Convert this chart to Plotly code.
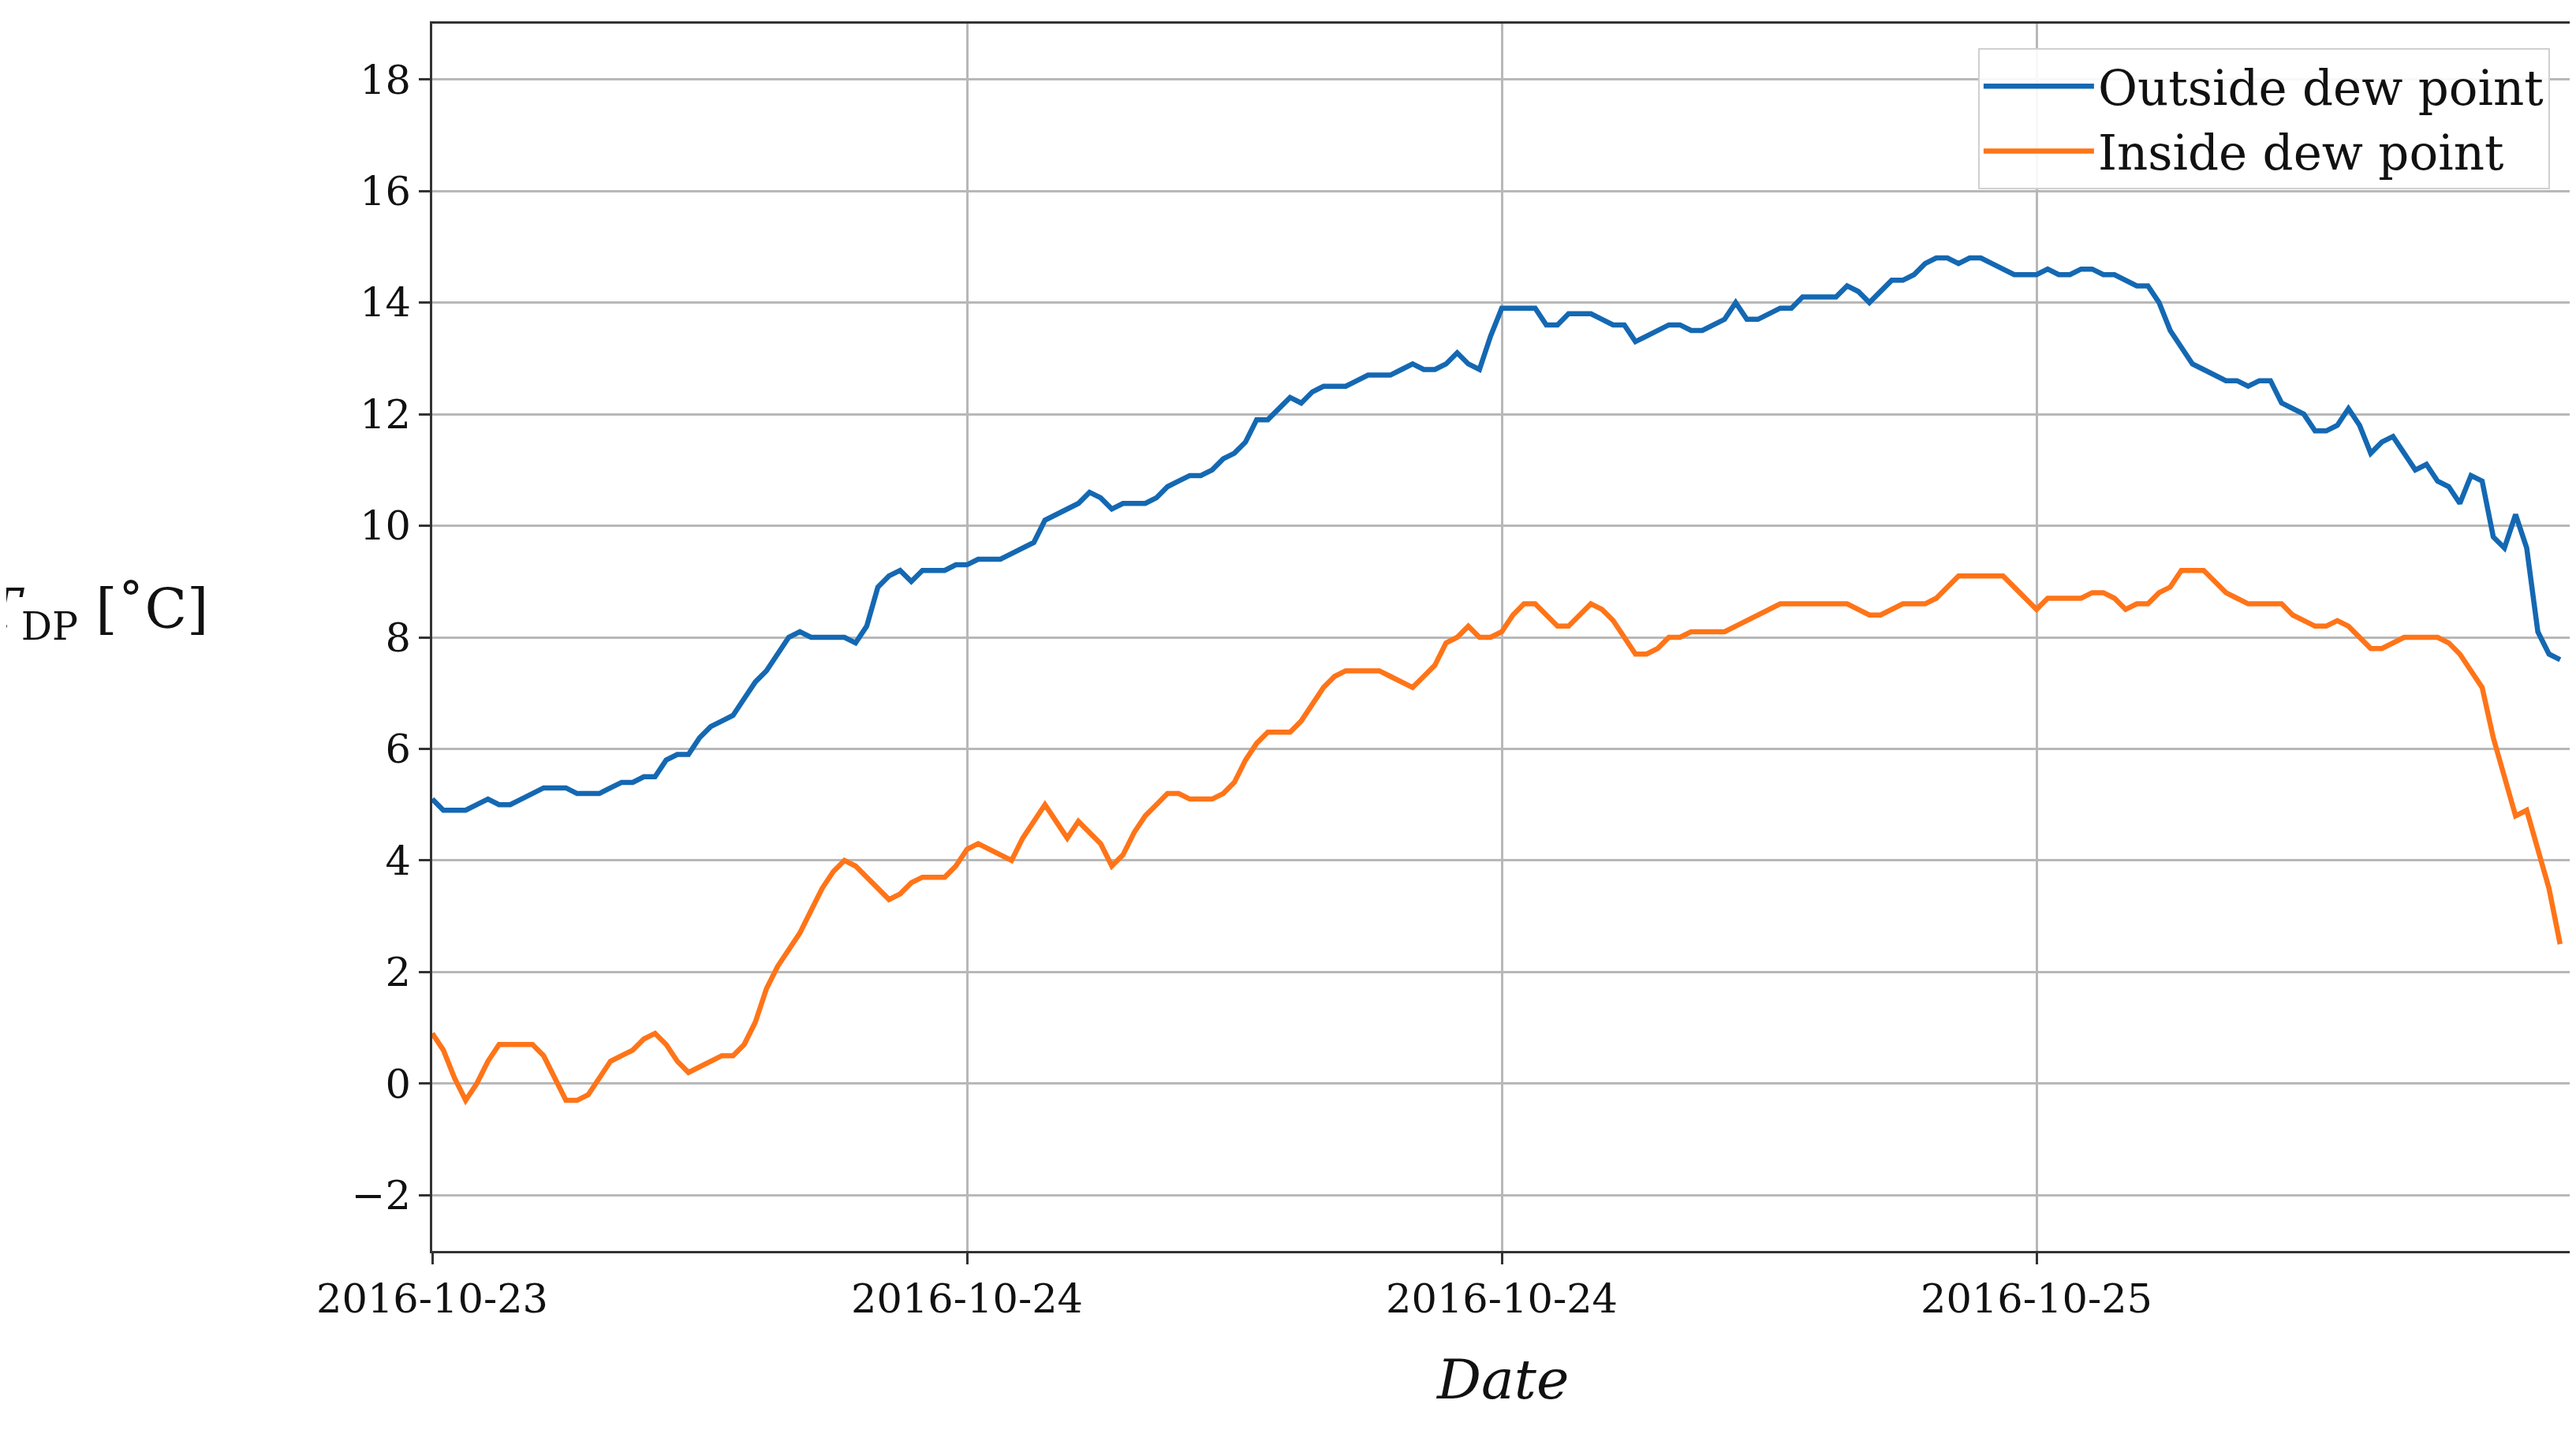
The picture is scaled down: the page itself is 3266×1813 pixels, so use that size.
import pandas as pd
import plotly.graph_objects as go

start = "2016-10-23 12:00"
n_points = 192
outside = [5.1,4.9,4.9,4.9,5.0,5.1,5.0,5.0,5.1,5.2,5.3,5.3,5.3,5.2,5.2,5.2,5.3,5.4,5.4,5.5,
5.5,5.8,5.9,5.9,6.2,6.4,6.5,6.6,6.9,7.2,7.4,7.7,8.0,8.1,8.0,8.0,8.0,8.0,7.9,8.2,
8.9,9.1,9.2,9.0,9.2,9.2,9.2,9.3,9.3,9.4,9.4,9.4,9.5,9.6,9.7,10.1,10.2,10.3,10.4,10.6,
10.5,10.3,10.4,10.4,10.4,10.5,10.7,10.8,10.9,10.9,11.0,11.2,11.3,11.5,11.9,11.9,12.1,12.3,12.2,12.4,
12.5,12.5,12.5,12.6,12.7,12.7,12.7,12.8,12.9,12.8,12.8,12.9,13.1,12.9,12.8,13.4,13.9,13.9,13.9,13.9,
13.6,13.6,13.8,13.8,13.8,13.7,13.6,13.6,13.3,13.4,13.5,13.6,13.6,13.5,13.5,13.6,13.7,14.0,13.7,13.7,
13.8,13.9,13.9,14.1,14.1,14.1,14.1,14.3,14.2,14.0,14.2,14.4,14.4,14.5,14.7,14.8,14.8,14.7,14.8,14.8,
14.7,14.6,14.5,14.5,14.5,14.6,14.5,14.5,14.6,14.6,14.5,14.5,14.4,14.3,14.3,14.0,13.5,13.2,12.9,12.8,
12.7,12.6,12.6,12.5,12.6,12.6,12.2,12.1,12.0,11.7,11.7,11.8,12.1,11.8,11.3,11.5,11.6,11.3,11.0,11.1,
10.8,10.7,10.4,10.9,10.8,9.8,9.6,10.2,9.6,8.1,7.7,7.6]
inside = [0.9,0.6,0.1,-0.3,0.0,0.4,0.7,0.7,0.7,0.7,0.5,0.1,-0.3,-0.3,-0.2,0.1,0.4,0.5,0.6,0.8,
0.9,0.7,0.4,0.2,0.3,0.4,0.5,0.5,0.7,1.1,1.7,2.1,2.4,2.7,3.1,3.5,3.8,4.0,3.9,3.7,
3.5,3.3,3.4,3.6,3.7,3.7,3.7,3.9,4.2,4.3,4.2,4.1,4.0,4.4,4.7,5.0,4.7,4.4,4.7,4.5,
4.3,3.9,4.1,4.5,4.8,5.0,5.2,5.2,5.1,5.1,5.1,5.2,5.4,5.8,6.1,6.3,6.3,6.3,6.5,6.8,
7.1,7.3,7.4,7.4,7.4,7.4,7.3,7.2,7.1,7.3,7.5,7.9,8.0,8.2,8.0,8.0,8.1,8.4,8.6,8.6,
8.4,8.2,8.2,8.4,8.6,8.5,8.3,8.0,7.7,7.7,7.8,8.0,8.0,8.1,8.1,8.1,8.1,8.2,8.3,8.4,
8.5,8.6,8.6,8.6,8.6,8.6,8.6,8.6,8.5,8.4,8.4,8.5,8.6,8.6,8.6,8.7,8.9,9.1,9.1,9.1,
9.1,9.1,8.9,8.7,8.5,8.7,8.7,8.7,8.7,8.8,8.8,8.7,8.5,8.6,8.6,8.8,8.9,9.2,9.2,9.2,
9.0,8.8,8.7,8.6,8.6,8.6,8.6,8.4,8.3,8.2,8.2,8.3,8.2,8.0,7.8,7.8,7.9,8.0,8.0,8.0,
8.0,7.9,7.7,7.4,7.1,6.2,5.5,4.8,4.9,4.2,3.5,2.5]
tick_dates = ["2016-10-23 12:00", "2016-10-24 00:00", "2016-10-24 12:00", "2016-10-25 00:00"]
tick_labels = ["2016-10-23", "2016-10-24", "2016-10-24", "2016-10-25"]
y_ticks = [-2, 0, 2, 4, 6, 8, 10, 12, 14, 16, 18]

times = pd.date_range(start, periods=n_points, freq="15min")
FONT = "DejaVu Serif"

fig = go.Figure()
fig.add_trace(go.Scatter(x=times, y=outside, mode="lines", name="Outside dew point",
                         line=dict(color="#1468b2", width=6.5)))
fig.add_trace(go.Scatter(x=times, y=inside, mode="lines", name="Inside dew point",
                         line=dict(color="#ff7418", width=6.5)))

axis_common = dict(showline=True, linecolor="#333", linewidth=2.5, mirror=True,
                   showgrid=True, gridcolor="#b8b8b8", gridwidth=2.5,
                   ticks="outside", ticklen=14, tickwidth=2.5, tickcolor="#333",
                   tickfont=dict(family=FONT, size=51, color="#111"), zeroline=False)
fig.update_xaxes(range=["2016-10-23 12:00", "2016-10-25 12:00"], tickvals=tick_dates,
                 ticktext=tick_labels, **axis_common)
fig.update_yaxes(range=[-3.0, 19.0], tickvals=y_ticks,
                 ticktext=[("\u2212" + str(-v)) if v < 0 else str(v) for v in y_ticks], **axis_common)

fig.add_annotation(text="<i>Date</i>", xref="paper", yref="paper", x=0.5, y=-0.105,
                   yanchor="middle", showarrow=False, font=dict(family=FONT, size=70, color="#111"))
fig.add_annotation(text="<i>T</i><sub>DP</sub> [\u02daC]", xref="paper", yref="paper",
                   x=-0.21, y=0.52, xanchor="left", yanchor="middle", showarrow=False,
                   font=dict(family=FONT, size=70, color="#111"))

fig.update_layout(width=3266, height=1813, plot_bgcolor="white", paper_bgcolor="white",
                  margin=dict(l=540, r=14, t=22, b=235),
                  legend=dict(x=0.99, y=0.98, xanchor="right", yanchor="top",
                              font=dict(family=FONT, size=61, color="#111"),
                              bgcolor="rgba(255,255,255,0.9)", bordercolor="#d0d0d0",
                              borderwidth=2, itemwidth=140, tracegroupgap=10))
fig.write_html("out.html")
